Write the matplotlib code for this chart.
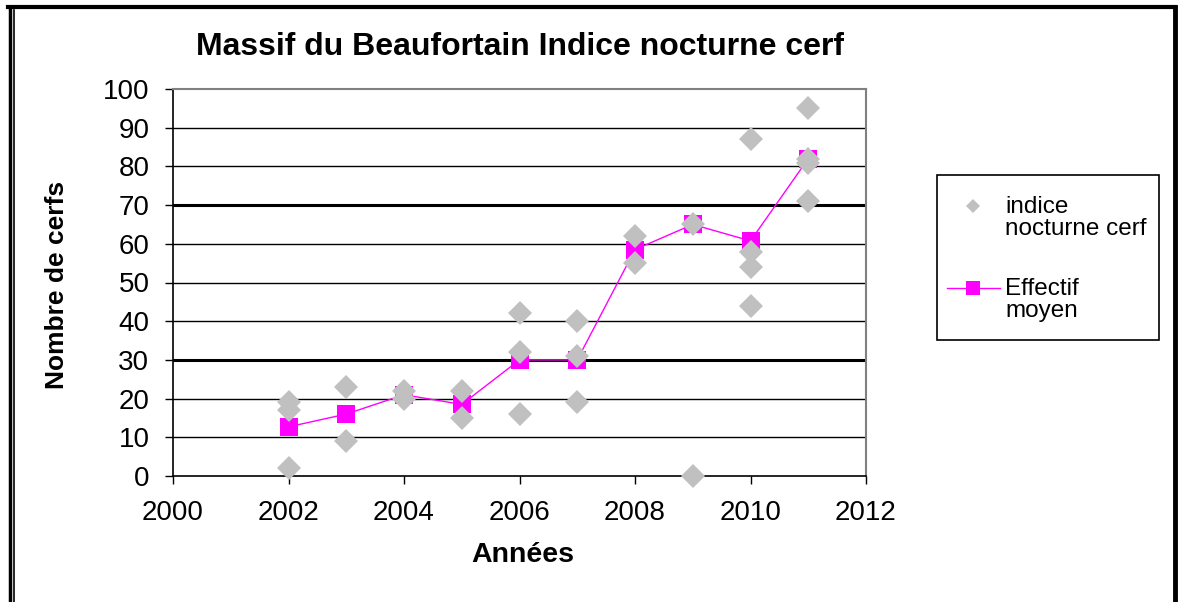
import matplotlib.pyplot as plt
from matplotlib.lines import Line2D
from matplotlib.patches import Rectangle

plt.rcParams['font.family'] = ['Liberation Sans', 'DejaVu Sans']

# individual night counts per year
obs_years = [2002, 2002, 2002, 2003, 2003, 2004, 2004, 2005, 2005,
             2006, 2006, 2006, 2007, 2007, 2007, 2008, 2008, 2009, 2009,
             2010, 2010, 2010, 2010, 2011, 2011, 2011, 2011]
obs_values = [19, 17, 2, 23, 9, 22, 20, 22, 15,
              42, 32, 16, 40, 31, 19, 62, 55, 65, 0,
              87, 58, 54, 44, 95, 82, 81, 71]

# yearly mean
mean_years = [2002, 2003, 2004, 2005, 2006, 2007, 2008, 2009, 2010, 2011]
mean_values = [12.7, 16, 21, 18.5, 30, 30, 58.5, 65, 60.75, 82]

x_ticks = [2000, 2002, 2004, 2006, 2008, 2010, 2012]
y_ticks = [0, 10, 20, 30, 40, 50, 60, 70, 80, 90, 100]

W, H = 1178, 602
fig = plt.figure(figsize=(W / 100, H / 100), dpi=100)
ax = fig.add_axes([173 / W, 1 - 476 / H, (866 - 173) / W, (476 - 89) / H])

ax.plot(mean_years, mean_values, '-s', color='#ff00ff', lw=1.0,
        ms=13.5, markeredgewidth=0, zorder=3)
ax.plot(obs_years, obs_values, 'D', color='#c0c0c0', ms=12,
        markeredgewidth=0, linestyle='none', zorder=4, clip_on=False)

ax.set_xlim(2000, 2012)
ax.set_ylim(0, 100)
ax.set_xticks(x_ticks)
ax.set_yticks(y_ticks)
ax.tick_params(axis='both', labelsize=20, direction='out', length=6,
               width=1, color='black')
ax.tick_params(axis='y', pad=11)
ax.tick_params(axis='x', pad=11)

ax.yaxis.grid(True, color='black', lw=1)
ax.set_axisbelow(True)
for i, gl in enumerate(ax.yaxis.get_gridlines()):
    if y_ticks[i] in (30, 70):
        gl.set_linewidth(2.2)
    if y_ticks[i] in (0, 100):
        gl.set_visible(False)

for side in ['top', 'right']:
    ax.spines[side].set_color('#808080')
    ax.spines[side].set_linewidth(1.5)
for side in ['left', 'bottom']:
    ax.spines[side].set_color('black')
    ax.spines[side].set_linewidth(1.2)

fig.text(520 / W, 1 - 47 / H, 'Massif du Beaufortain Indice nocturne cerf',
         ha='center', va='center', fontsize=23, fontweight='bold')
fig.text(523 / W, 1 - 555 / H, 'Années', ha='center', va='center',
         fontsize=20.5, fontweight='bold')
fig.text(57 / W, 1 - 285 / H, 'Nombre de cerfs', ha='center', va='center',
         rotation=90, fontsize=19, fontweight='bold')

# legend box drawn by hand to match the placement
fig.add_artist(Rectangle((937 / W, 1 - 340 / H), (1159 - 937) / W, (340 - 175) / H,
                         transform=fig.transFigure, fill=False, ec='black', lw=1.2))
fig.add_artist(Line2D([973 / W], [1 - 206 / H], marker='D', ms=7, color='#c0c0c0',
                      markeredgewidth=0, transform=fig.transFigure))
fig.add_artist(Line2D([947 / W, 1000 / W], [1 - 288 / H, 1 - 288 / H],
                      color='#ff00ff', lw=1, transform=fig.transFigure))
fig.add_artist(Line2D([973 / W], [1 - 288 / H], marker='s', ms=10, color='#ff00ff',
                      markeredgewidth=0, transform=fig.transFigure))
fig.text(1005 / W, 1 - 218 / H, 'indice\nnocturne cerf', ha='left', va='center',
         fontsize=17.5, linespacing=1.05)
fig.text(1005 / W, 1 - 300 / H, 'Effectif\nmoyen', ha='left', va='center',
         fontsize=17.5, linespacing=1.05)

# outer frame
fig.add_artist(Line2D([8 / W, 1175 / W], [1 - 7 / H, 1 - 7 / H], color='black',
                      lw=3, transform=fig.transFigure))
fig.add_artist(Line2D([1175 / W, 1175 / W], [0, 1 - 7 / H], color='black',
                      lw=3.5, transform=fig.transFigure))
fig.add_artist(Line2D([10 / W, 10 / W], [0, 1 - 7 / H], color='black',
                      lw=2.5, transform=fig.transFigure))
fig.add_artist(Line2D([14 / W, 14 / W], [0, 1 - 10 / H], color='black',
                      lw=1.2, transform=fig.transFigure))

fig.savefig('out.png', dpi=100)
plt.close(fig)
